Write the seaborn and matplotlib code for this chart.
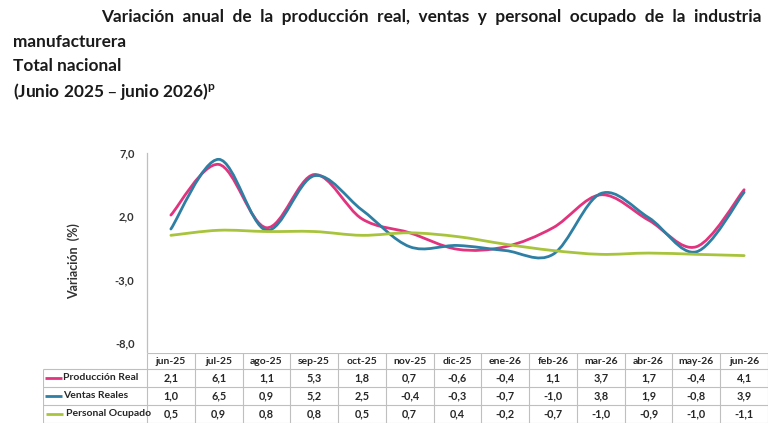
import numpy as np
import pandas as pd
import matplotlib
matplotlib.use("Agg")
import matplotlib.pyplot as plt
from matplotlib.path import Path
from matplotlib.patches import PathPatch
import seaborn as sns

# ---------------- data ----------------
months = ["jun-25", "jul-25", "ago-25", "sep-25", "oct-25", "nov-25", "dic-25",
          "ene-26", "feb-26", "mar-26", "abr-26", "may-26", "jun-26"]
produccion_real = [2.1, 6.1, 1.1, 5.3, 1.8, 0.7, -0.6, -0.4, 1.1, 3.7, 1.7, -0.4, 4.1]
ventas_reales = [1.0, 6.5, 0.9, 5.2, 2.5, -0.4, -0.3, -0.7, -1.0, 3.8, 1.9, -0.8, 3.9]
personal_ocupado = [0.5, 0.9, 0.8, 0.8, 0.5, 0.7, 0.4, -0.2, -0.7, -1.0, -0.9, -1.0, -1.1]
series_names = ["Producción Real", "Ventas Reales", "Personal Ocupado"]
y_ticks = [7.0, 2.0, -3.0, -8.0]

colors = {"Producción Real": "#E2337E",
          "Ventas Reales": "#2E7FA3",
          "Personal Ocupado": "#A8C43C"}

df = pd.DataFrame({
    "mes": months * 3,
    "idx": list(range(len(months))) * 3,
    "valor": produccion_real + ventas_reales + personal_ocupado,
    "serie": [s for s in series_names for _ in months],
})

sns.set_theme(style="white")
plt.rcParams["font.family"] = ["Lato", "DejaVu Sans"]

W, H = 768, 432
fig = plt.figure(figsize=(W / 100, H / 100), dpi=100)

def fx(px):
    return px / W

def fy(py):
    return 1 - py / H

# ---------------- title ----------------
title_kw = dict(fontsize=12.4, fontweight="bold", color="#1a1a1a", va="center")
fig.text(fx(101), fy(17),
         "Variación  anual  de  la  producción  real,  ventas  y  personal  ocupado  de  la  industria",
         **title_kw)
fig.text(fx(13), fy(42), "manufacturera", **title_kw)
fig.text(fx(13), fy(66), "Total nacional", **title_kw)
fig.text(fx(13), fy(91), "(Junio 2025 – junio 2026)$^{\\mathregular{p}}$", **title_kw)

# ---------------- chart ----------------
ax_left, ax_right = 147, 768
ax_top, ax_bot = 153, 343
ax = fig.add_axes([fx(ax_left), fy(ax_bot), fx(ax_right - ax_left), (ax_bot - ax_top) / H])

sns.lineplot(data=df, x="idx", y="valor", hue="serie", palette=colors,
             hue_order=series_names, ax=ax, legend=False, linewidth=2.0, sort=True)

# Excel-style smoothed rendering of each seaborn line (Bezier through the data points)
for line, name in zip(ax.get_lines(), series_names):
    xy = np.asarray(line.get_xydata(), dtype=float)
    n = len(xy)
    verts = [xy[0]]
    codes = [Path.MOVETO]
    for i in range(n - 1):
        p_prev = xy[i - 1] if i > 0 else xy[i]
        p0 = xy[i]
        p1 = xy[i + 1]
        p_next = xy[i + 2] if i + 2 < n else xy[i + 1]
        c1 = p0 + (p1 - p_prev) / 6.0
        c2 = p1 - (p_next - p0) / 6.0
        verts += [c1, c2, p1]
        codes += [Path.CURVE4, Path.CURVE4, Path.CURVE4]
    patch = PathPatch(Path(verts, codes), facecolor="none", edgecolor=line.get_color(),
                      linewidth=2.0, transform=ax.transData, capstyle="round",
                      joinstyle="round", zorder=line.get_zorder())
    ax.add_patch(patch)
    line.set_visible(False)

ax.set_xlim(-0.5, len(months) - 0.5)
ax.set_ylim(min(y_ticks), max(y_ticks))
ax.set_yticks(y_ticks)
ax.set_yticklabels([f"{v:.1f}".replace(".", ",") for v in y_ticks],
                   fontsize=8, fontweight="bold", color="#333333")
ax.tick_params(axis="y", length=0, pad=9)
ax.set_xticks([])
ax.set_xlabel("")
ax.set_ylabel("Variación  (%)", fontsize=9, fontweight="bold", color="#333333")
ax.yaxis.set_label_coords(-0.108, 0.43)
for s in ["top", "right", "bottom"]:
    ax.spines[s].set_visible(False)
ax.spines["left"].set_color("#BFBFBF")
ax.spines["left"].set_linewidth(0.9)
ax.spines["left"].set_bounds(min(y_ticks) - 0.7, max(y_ticks))
ax.patch.set_alpha(0)

# ---------------- data table ----------------
t_left, t_right = 43, 768
t_top, t_bot = 353, 423
tax = fig.add_axes([fx(t_left), fy(t_bot), fx(t_right - t_left), (t_bot - t_top) / H])
tax.set_xlim(0, t_right - t_left)
tax.set_ylim(t_bot - t_top, 0)
tax.axis("off")

label_w = ax_left - t_left
ncol = len(months)
col_w = (t_right - t_left - label_w) / ncol
header_h = 16
row_h = (t_bot - t_top - header_h) / 3
grid_c = "#BFBFBF"
lw = 0.8
txt_c = "#262626"

tax.hlines(0, label_w, t_right - t_left, color=grid_c, lw=lw)
for r in range(4):
    y = header_h + r * row_h
    tax.hlines(y, 0, t_right - t_left, color=grid_c, lw=lw)
tax.vlines(0, header_h, t_bot - t_top, color=grid_c, lw=lw)
for c in range(ncol + 1):
    x = label_w + c * col_w
    tax.vlines(x, 0, t_bot - t_top, color=grid_c, lw=lw)

for c, m in enumerate(months):
    tax.text(label_w + (c + 0.5) * col_w, header_h / 2, m, ha="center", va="center",
             fontsize=7.5, fontweight="bold", color=txt_c)

all_series = [produccion_real, ventas_reales, personal_ocupado]
for r, (name, vals) in enumerate(zip(series_names, all_series)):
    yc = header_h + (r + 0.5) * row_h
    x0 = 2 if r < 2 else 3
    tax.plot([x0, x0 + 17], [yc, yc], color=colors[name], lw=2.0, solid_capstyle="butt")
    tax.text(x0 + 18 if r < 2 else x0 + 20, yc, name, ha="left", va="center",
             fontsize=7.5, fontweight="bold", color=txt_c)
    for c, v in enumerate(vals):
        tax.text(label_w + (c + 0.5) * col_w, yc, f"{v:.1f}".replace(".", ","),
                 ha="center", va="center", fontsize=7.8, fontweight="bold", color=txt_c)

fig.savefig("out.png", dpi=100)
